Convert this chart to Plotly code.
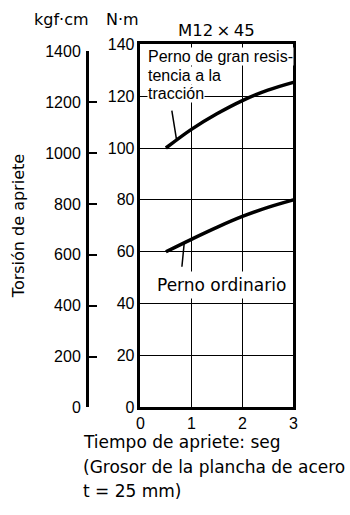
import numpy as np
import plotly.graph_objects as go

# ---- data ----
time_s = [0.5, 1.0, 1.5, 2.0, 2.5, 3.0]
torque_high = [100.0, 107.2, 113.2, 118.3, 122.3, 125.3]   # Perno de gran resistencia a la tracción (N·m)
torque_ordinary = [60.0, 64.8, 69.4, 73.6, 77.1, 80.0]     # Perno ordinario (N·m)
nm_ticks = [0, 20, 40, 60, 80, 100, 120, 140]
kgf_ticks = [0, 200, 400, 600, 800, 1000, 1200, 1400]
x_ticks = [0, 1, 2, 3]
KGFCM_TO_NM = 0.0980665

W, H = 350, 515
def px(x):
    return x / W
def py(y):
    return 1 - y / H

FONT_W = "DejaVu Sans"
FONT_N = "Liberation Sans"

x_dom = [px(140), px(297)]
y_dom = [py(413), py(37.5)]
nm_max = 140
kgf_top = 1400
y2_dom = [y_dom[0], y_dom[0] + (y_dom[1] - y_dom[0]) * (kgf_top * KGFCM_TO_NM) / nm_max]

fig = go.Figure()
fig.add_trace(go.Scatter(x=time_s, y=torque_high, mode="lines", line=dict(color="black", width=3.5, shape="spline"),
                         hoverinfo="skip", showlegend=False))
fig.add_trace(go.Scatter(x=time_s, y=torque_ordinary, mode="lines", line=dict(color="black", width=3.5, shape="spline"),
                         hoverinfo="skip", showlegend=False))
# helper trace so the kgf·cm axis exists
fig.add_trace(go.Scatter(x=[], y=[], xaxis="x2", yaxis="y2", showlegend=False, hoverinfo="skip"))

tick_font = dict(family=FONT_N, size=16, color="black")

fig.update_layout(
    width=W, height=H,
    margin=dict(l=0, r=0, t=0, b=0, pad=0),
    paper_bgcolor="white", plot_bgcolor="white",
    font=dict(family=FONT_W, color="black"),
    xaxis=dict(domain=x_dom, range=[0, 3], tickvals=x_ticks, ticks="", showgrid=True,
               gridcolor="black", gridwidth=1.2, showline=True, linecolor="black", linewidth=2.5,
               mirror=True, zeroline=False, tickfont=tick_font, anchor="y", fixedrange=True),
    yaxis=dict(domain=y_dom, range=[0, nm_max], tickvals=nm_ticks, ticks="", showgrid=True,
               gridcolor="black", gridwidth=1.2, showline=True, linecolor="black", linewidth=2.5,
               mirror=True, zeroline=False, tickfont=tick_font, anchor="x", fixedrange=True),
    xaxis2=dict(domain=[px(87), px(100)], visible=False, anchor="y2", range=[0, 1]),
    yaxis2=dict(domain=y2_dom, range=[0, kgf_top], tickvals=kgf_ticks, anchor="x2", side="left",
                showgrid=False, zeroline=False, showline=True, linecolor="black", linewidth=2.5,
                ticks="inside", ticklen=8, tickwidth=2, tickcolor="black", tickfont=tick_font,
                ticklabelstandoff=2, fixedrange=True),
)

ann = []
# unit labels and title
ann.append(dict(text="kgf·cm", x=px(59), y=py(12), xref="paper", yref="paper", showarrow=False,
                font=dict(family=FONT_W, size=16), xanchor="center", yanchor="middle"))
ann.append(dict(text="N·m", x=px(122), y=py(12), xref="paper", yref="paper", showarrow=False,
                font=dict(family=FONT_W, size=16), xanchor="center", yanchor="middle"))
ann.append(dict(text="M12\u2009×\u200945", x=px(218), y=py(23), xref="paper", yref="paper", showarrow=False,
                font=dict(family=FONT_W, size=16.5), xanchor="center", yanchor="middle"))
# y title
ann.append(dict(text="Torsión de apriete", x=px(15), y=py(226), xref="paper", yref="paper", showarrow=False,
                textangle=-90, font=dict(family=FONT_W, size=16), xanchor="center", yanchor="middle"))
# bottom texts
for txt, yc in [("Tiempo de apriete: seg", 449), ("(Grosor de la plancha de acero", 474.5), ("t = 25 mm)", 500)]:
    ann.append(dict(text=txt, x=px(79), y=py(yc), xref="paper", yref="paper", showarrow=False,
                    font=dict(family=FONT_W, size=17), xanchor="left", yanchor="middle"))

# curve labels (white backgrounds hide the grid behind)
for txt, yv in [("Perno de gran resis-", 135.1), ("tencia a la", 128.0), ("tracción", 120.9)]:
    ann.append(dict(text=txt, x=0.134, y=yv, xref="x", yref="y", showarrow=False, bgcolor="white",
                    borderpad=0, font=dict(family=FONT_N, size=16), xanchor="left", yanchor="middle"))
ann.append(dict(text="Perno ordinario", x=1.587, y=47.0, xref="x", yref="y", showarrow=False, bgcolor="white",
                borderpad=3, font=dict(family=FONT_W, size=17), xanchor="center", yanchor="middle"))

# leader lines
xh = 0.71
ann.append(dict(text="", x=xh, y=float(np.interp(xh, time_s, torque_high)), xref="x", yref="y",
                showarrow=True, arrowhead=0, arrowwidth=1.5, arrowcolor="black", ax=-5, ay=-31, standoff=0))
xo = 0.86
ann.append(dict(text="", x=xo, y=float(np.interp(xo, time_s, torque_ordinary)), xref="x", yref="y",
                showarrow=True, arrowhead=0, arrowwidth=1.5, arrowcolor="black", ax=-2.5, ay=25.5, standoff=0))

fig.update_layout(annotations=ann)

post = (
    "var gd=document.getElementById('{plot_id}');"
    "gd.style.display='block';"
    "var p=gd.parentElement; p.style.height='515px'; p.style.width='350px'; p.style.overflow='hidden';"
    "document.body.style.margin='0'; document.body.style.padding='0';"
    "document.body.style.height='515px'; document.body.style.width='350px'; document.body.style.overflow='hidden';"
    "document.documentElement.style.height='515px'; document.documentElement.style.width='350px';"
    "document.documentElement.style.overflow='hidden';"
)
fig.write_html("out.html", config=dict(displayModeBar=False), post_script=post)
